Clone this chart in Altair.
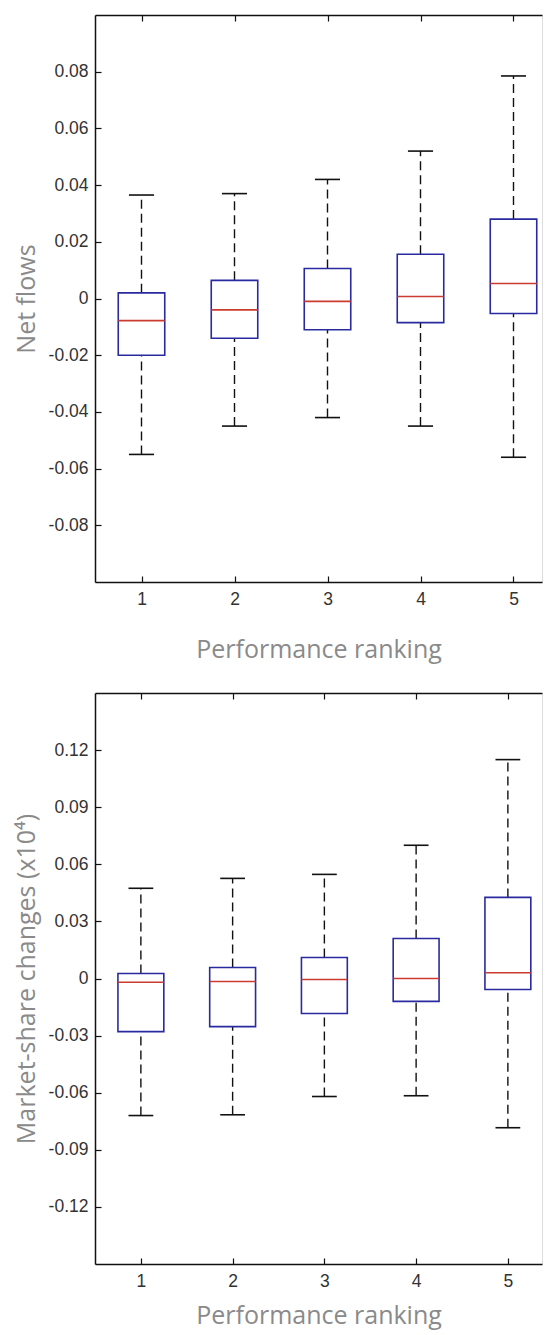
import altair as alt
import pandas as pd

rank = [1, 2, 3, 4, 5]

nf_low = [-0.055, -0.045, -0.042, -0.045, -0.056]
nf_q1 = [-0.020, -0.014, -0.011, -0.0085, -0.0053]
nf_med = [-0.0078, -0.004, -0.001, 0.0007, 0.0053]
nf_q3 = [0.002, 0.0064, 0.0106, 0.0156, 0.028]
nf_high = [0.0365, 0.037, 0.042, 0.052, 0.0785]

ms_low = [-0.072, -0.0716, -0.062, -0.0616, -0.0784]
ms_q1 = [-0.0279, -0.0253, -0.0184, -0.012, -0.0058]
ms_med = [-0.002, -0.0016, -0.0005, 0.0, 0.003]
ms_q3 = [0.0026, 0.0058, 0.011, 0.021, 0.0426]
ms_high = [0.0474, 0.0526, 0.0547, 0.070, 0.115]

nf_ticks = [-0.08, -0.06, -0.04, -0.02, 0, 0.02, 0.04, 0.06, 0.08]
ms_ticks = [-0.12, -0.09, -0.06, -0.03, 0, 0.03, 0.06, 0.09, 0.12]

BLUE = "#2a2aa0"
RED = "#cc3b30"
INK = "#111111"
LABEL_FONT = "Liberation Sans"
TITLE_FONT = "Open Sans"
TITLE_COLOR = "#8a8a8a"
LABEL_EXPR = "datum.value == 0 ? '0' : (datum.value < 0 ? '-' : '') + format(abs(datum.value), '.2f')"

PLOT_W = 447  # visible part of the plot area (right side is cut off, as in the original)


def panel(low, q1, med, q3, high, ydom, yticks, ytitle, h, px_per_rank, title_pad):
    df = pd.DataFrame({"rank": rank, "low": low, "q1": q1, "med": med, "q3": q3, "high": high})
    base = alt.Chart(df).transform_calculate(
        xl="datum.rank - 0.25", xr="datum.rank + 0.25",
        cl="datum.rank - 0.135", cr="datum.rank + 0.135",
    )
    xs = alt.Scale(domain=[0.5, 0.5 + PLOT_W / px_per_rank], nice=False, zero=False)
    ys = alt.Scale(domain=ydom, nice=False, zero=False)

    tk = dict(grid=False, domain=False, ticks=True, tickSize=6, offset=-6,
              tickColor=INK, tickWidth=1.2)
    dom = dict(grid=False, domain=True, domainColor=INK, domainWidth=1.5,
               ticks=False, labels=False, title=None)
    lab = dict(labelFont=LABEL_FONT, labelFontSize=17.5, labelColor="#333",
               titleFont=TITLE_FONT, titleFontSize=25, titleFontWeight="normal",
               titleColor=TITLE_COLOR)

    xaxis = alt.Axis(orient="bottom", values=rank, format="d", title="Performance ranking",
                     labelPadding=8, titlePadding=title_pad, **lab, **tk)
    yaxis = alt.Axis(orient="left", values=yticks, labelExpr=LABEL_EXPR, title=ytitle,
                     labelPadding=7, titlePadding=9, **lab, **tk)
    xtop = alt.Axis(orient="top", values=rank, labels=False, title=None, **tk)
    xdom_b = alt.Axis(orient="bottom", **dom)
    ydom_l = alt.Axis(orient="left", **dom)
    xdom_t = alt.Axis(orient="top", **dom)

    dash = dict(color=INK, strokeWidth=1.4, strokeDash=[9, 5])
    wh_up = base.mark_rule(**dash).encode(
        x=alt.X("rank:Q", scale=xs, axis=xaxis),
        y=alt.Y("q3:Q", scale=ys, axis=yaxis), y2="high:Q")
    wh_lo = base.mark_rule(**dash).encode(
        x=alt.X("rank:Q", scale=xs, axis=xdom_b),
        y=alt.Y("low:Q", scale=ys, axis=ydom_l), y2="q1:Q")
    cap_hi = base.mark_rule(color=INK, strokeWidth=1.6).encode(
        x=alt.X("cl:Q", scale=xs, axis=xtop), x2="cr:Q",
        y=alt.Y("high:Q", scale=ys, axis=None))
    cap_lo = base.mark_rule(color=INK, strokeWidth=1.6).encode(
        x=alt.X("cl:Q", scale=xs, axis=xdom_t), x2="cr:Q",
        y=alt.Y("low:Q", scale=ys, axis=None))
    box = base.mark_rect(fill="white", stroke=BLUE, strokeWidth=1.6).encode(
        x=alt.X("xl:Q", scale=xs, axis=None), x2="xr:Q",
        y=alt.Y("q1:Q", scale=ys, axis=None), y2="q3:Q")
    med_l = base.mark_rule(color=RED, strokeWidth=1.6).encode(
        x=alt.X("xl:Q", scale=xs, axis=None), x2="xr:Q",
        y=alt.Y("med:Q", scale=ys, axis=None))

    return alt.layer(wh_up, wh_lo, cap_hi, cap_lo, box, med_l).resolve_axis(
        x="independent", y="independent").properties(width=PLOT_W, height=h)


top = panel(nf_low, nf_q1, nf_med, nf_q3, nf_high, [-0.1, 0.1], nf_ticks,
            "Net flows", 567, 93.0, 30)
bottom = panel(ms_low, ms_q1, ms_med, ms_q3, ms_high, [-0.15, 0.15], ms_ticks,
               "Market-share changes (x10\u2074)", 571, 91.75, 14)

chart = alt.vconcat(top, bottom, spacing=28).properties(
    padding={"left": 5, "top": 5, "right": 0, "bottom": 12}
).configure_view(stroke="transparent").configure(background="white")

chart.save("out.html", embed_options={"renderer": "svg", "actions": False})
